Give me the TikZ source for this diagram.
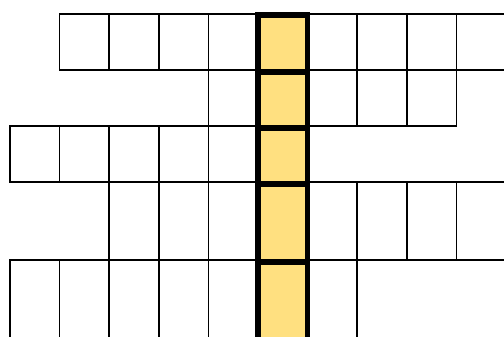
\documentclass[tikz,border=0pt]{standalone}
\definecolor{hilite}{RGB}{255,224,128}
\tikzset{
  cell/.style={draw=black, line width=1pt, line join=miter},
  keycell/.style={fill=hilite, draw=black, line width=3.2pt, line join=miter},
}
\begin{document}
\begin{tikzpicture}[x=0.02cm,y=-0.02cm]
\useasboundingbox (0,0) rectangle (504,336);
% across rows
\foreach \c in {1,...,9} \draw[cell] ({10+49.6*\c},14) rectangle ++(49.6,56);
\foreach \c in {4,...,8} \draw[cell] ({10+49.6*\c},70) rectangle ++(49.6,56);
\foreach \c in {0,...,4} \draw[cell] ({10+49.6*\c},126) rectangle ++(49.6,56);
\foreach \c in {2,...,9} \draw[cell] ({10+49.6*\c},182) rectangle ++(49.6,78);
\foreach \c in {0,...,6} \draw[cell] ({10+49.6*\c},260) rectangle ++(49.6,80);
% highlighted column
\draw[keycell] (258,15) rectangle (307.6,72);
\draw[keycell] (258,72) rectangle (307.6,128);
\draw[keycell] (258,128) rectangle (307.6,184);
\draw[keycell] (258,184) rectangle (307.6,262);
\draw[keycell] (258,262) rectangle (307.6,340);
\end{tikzpicture}
\end{document}
